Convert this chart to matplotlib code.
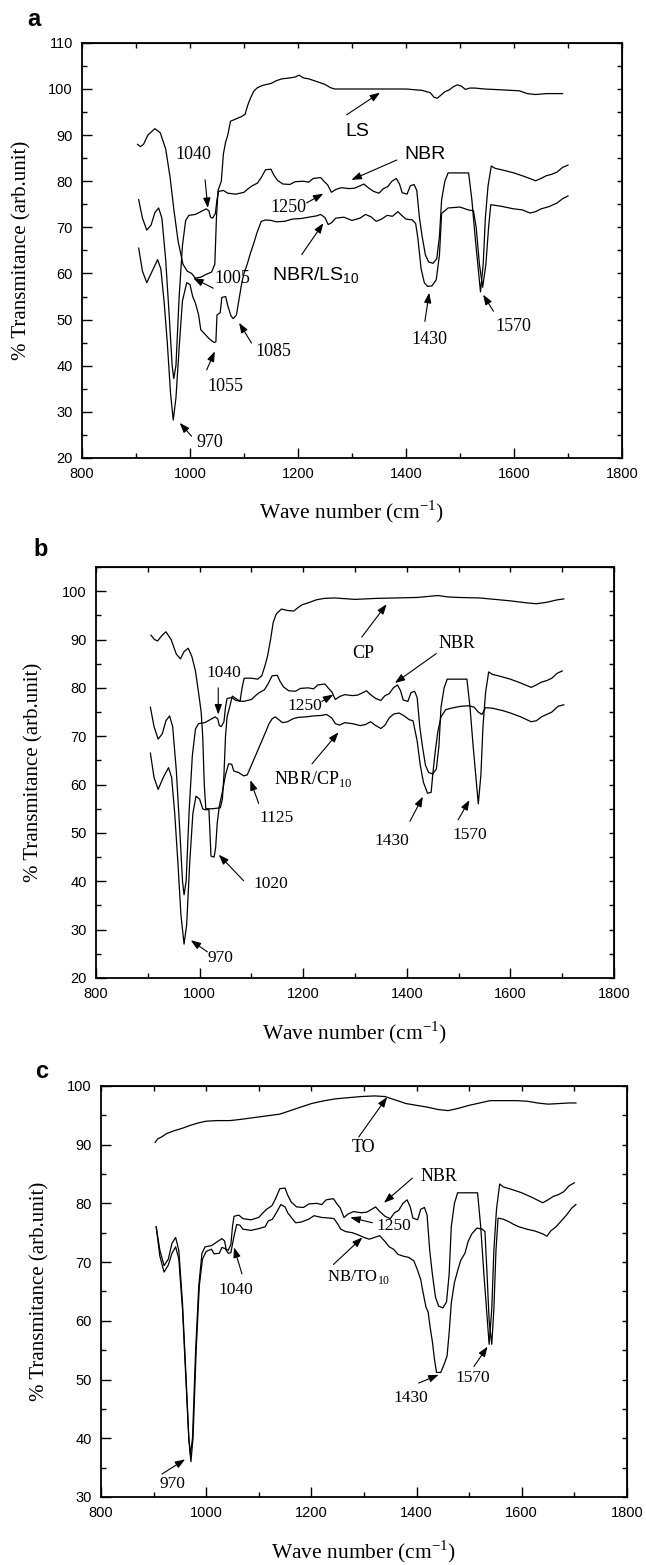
"""
FTIR spectra of NBR and its blends (panels a, b, c).
"""

import matplotlib
matplotlib.use("Agg")
import matplotlib.pyplot as plt
from matplotlib.ticker import MultipleLocator

plt.rcParams["mathtext.fontset"] = "custom"
plt.rcParams["mathtext.rm"] = "Liberation Serif"
plt.rcParams["mathtext.sf"] = "Liberation Sans"

SANS = "Liberation Sans"
SERIF = "Liberation Serif"

# ---------------------------------------------------------------- data
# Pure NBR spectrum (shown in every panel)
nbr_x = [905, 912, 920, 928, 935, 942, 948, 955, 962, 967, 970, 974, 980,
         986, 992, 998, 1010, 1020, 1030, 1035, 1038, 1042, 1047, 1050, 1053,
         1062, 1070, 1085, 1100, 1108, 1115, 1125, 1132, 1140, 1150, 1155,
         1162, 1172, 1185, 1195, 1210, 1220, 1228, 1242, 1248, 1255, 1262,
         1270, 1280, 1295, 1305, 1315, 1322, 1330, 1340, 1350, 1358, 1366,
         1374, 1382, 1388, 1393, 1402, 1408, 1415, 1420, 1425, 1430, 1436,
         1442, 1450, 1457, 1462, 1466, 1472, 1478, 1500, 1516, 1522, 1528,
         1538, 1543, 1547, 1552, 1558, 1565, 1580, 1600, 1620, 1640, 1650,
         1660, 1670, 1680, 1690, 1700]
nbr_y = [76.0, 72.0, 69.4, 70.5, 73.2, 74.2, 72.0, 63.0, 50.0, 40.0, 37.2,
         40.0, 55.0, 66.0, 71.5, 72.6, 72.8, 73.4, 74.0, 73.6, 72.2, 72.0,
         73.0, 76.0, 77.8, 78.0, 77.4, 77.2, 77.6, 78.4, 79.0, 79.6, 80.8,
         82.5, 82.6, 81.4, 80.2, 79.4, 79.3, 79.9, 80.0, 79.8, 80.6, 80.8,
         80.0, 79.2, 77.6, 78.2, 78.6, 78.4, 78.5, 79.0, 79.4, 78.6, 77.8,
         77.4, 78.4, 78.8, 80.0, 80.6, 79.4, 77.5, 77.2, 79.0, 79.3, 78.0,
         72.0, 68.0, 64.0, 62.5, 62.2, 63.2, 68.0, 76.0, 80.0, 81.8, 81.8,
         81.8, 76.0, 68.0, 56.0, 62.0, 72.0, 79.0, 83.3, 82.8, 82.4, 81.8,
         81.0, 80.1, 80.6, 81.2, 81.5, 82.0, 83.0, 83.5]

# Panel a: lignosulfonate (LS) and NBR/LS10
ls_x = [903, 908, 914, 922, 935, 945, 955, 963, 970, 978, 987, 995, 1003,
        1010, 1020, 1030, 1040, 1046, 1049, 1052, 1058, 1062, 1066, 1070,
        1075, 1085, 1095, 1102, 1107, 1112, 1118, 1125, 1135, 1150, 1160,
        1170, 1185, 1195, 1202, 1210, 1220, 1235, 1250, 1260, 1268, 1300,
        1350, 1400, 1430, 1445, 1452, 1458, 1464, 1472, 1480, 1488, 1495,
        1503, 1510, 1518, 1528, 1545, 1580, 1610, 1625, 1640, 1660, 1690]
ls_y = [88.0, 87.5, 88.0, 90.0, 91.4, 90.5, 87.0, 81.0, 74.0, 67.0, 62.0,
        60.5, 60.0, 59.0, 59.2, 59.8, 60.3, 62.0, 72.0, 78.0, 80.0, 86.0,
        88.5, 90.0, 93.0, 93.5, 94.0, 94.5, 96.5, 98.0, 99.5, 100.3, 100.8,
        101.2, 101.8, 102.2, 102.4, 102.6, 103.0, 102.4, 102.2, 101.6, 101.0,
        100.3, 100.0, 100.0, 100.0, 100.0, 99.7, 99.2, 98.2, 98.0, 98.6,
        99.4, 99.8, 100.5, 100.9, 100.6, 99.9, 100.2, 100.2, 100.0, 99.8,
        99.6, 99.0, 98.8, 99.0, 99.0]

nbr_ls_x = [905, 912, 920, 930, 940, 946, 952, 958, 964, 969, 974, 980, 986,
            994, 1000, 1005, 1010, 1016, 1020, 1028, 1036, 1045, 1048, 1050,
            1056, 1059, 1066, 1070, 1076, 1080, 1086, 1090, 1096, 1100, 1106,
            1112, 1118, 1124, 1132, 1140, 1150, 1160, 1175, 1190, 1205, 1220,
            1235, 1242, 1250, 1256, 1262, 1270, 1285, 1300, 1315, 1325, 1335,
            1345, 1355, 1365, 1375, 1385, 1392, 1400, 1412, 1418, 1422, 1428,
            1434, 1440, 1448, 1456, 1462, 1466, 1478, 1500, 1515, 1525, 1530,
            1536, 1542, 1548, 1553, 1557, 1575, 1600, 1615, 1630, 1640, 1650,
            1665, 1680, 1690, 1700]
nbr_ls_y = [65.5, 60.5, 58.0, 60.5, 63.0, 61.0, 54.0, 45.0, 34.0, 28.2, 33.0,
            44.0, 54.0, 58.0, 57.6, 55.0, 53.6, 51.0, 47.8, 46.8, 45.8, 45.0,
            45.2, 51.0, 51.5, 54.8, 55.0, 53.0, 50.8, 50.2, 51.0, 53.8, 58.0,
            60.0, 62.0, 64.4, 66.5, 68.8, 71.3, 71.6, 71.5, 71.2, 71.3, 71.8,
            71.9, 72.2, 72.5, 72.8, 72.1, 70.6, 71.0, 72.0, 72.2, 71.5, 72.0,
            72.8, 72.3, 71.3, 71.8, 72.6, 72.4, 73.4, 72.6, 71.8, 71.6, 70.8,
            67.7, 61.0, 58.0, 57.2, 57.3, 58.6, 64.0, 73.0, 74.2, 74.4, 73.8,
            73.6, 70.0, 62.0, 57.0, 62.0, 70.0, 74.9, 74.6, 74.0, 73.8, 73.1,
            73.4, 74.0, 74.5, 75.3, 76.2, 76.8]

# Panel b: CP and NBR/CP10
cp_x = [906, 913, 919, 927, 935, 945, 955, 963, 970, 978, 985, 992, 998,
        1003, 1006, 1009, 1012, 1025, 1040, 1044, 1047, 1050, 1053, 1058,
        1063, 1070, 1078, 1082, 1086, 1100, 1112, 1120, 1126, 1131, 1137,
        1142, 1148, 1158, 1170, 1182, 1190, 1198, 1210, 1225, 1240, 1260,
        1300, 1340, 1380, 1420, 1460, 1480, 1500, 1540, 1570, 1600, 1630,
        1650, 1670, 1690, 1703]
cp_y = [90.9, 90.0, 89.7, 90.8, 91.6, 90.0, 87.0, 86.0, 87.5, 88.2, 86.5,
        83.5, 79.0, 75.0, 70.0, 60.0, 55.0, 55.0, 55.2, 57.0, 62.0, 70.0,
        74.0, 76.0, 78.3, 77.8, 77.2, 80.0, 82.0, 82.0, 81.8, 82.5, 84.5,
        86.5, 90.0, 93.5, 95.3, 96.3, 96.0, 95.9, 96.6, 97.2, 97.6, 98.2,
        98.5, 98.6, 98.3, 98.5, 98.6, 98.7, 99.1, 98.8, 98.7, 98.6, 98.3,
        98.0, 97.6, 97.4, 97.7, 98.2, 98.4]

nbr_cp_x = [905, 912, 920, 930, 940, 946, 952, 958, 964, 970, 975, 981, 987,
            993, 1000, 1006, 1010, 1018, 1020, 1022, 1028, 1031, 1034, 1038,
            1044, 1050, 1056, 1062, 1066, 1075, 1085, 1092, 1098, 1104, 1110,
            1116, 1122, 1128, 1134, 1140, 1146, 1152, 1160, 1170, 1180, 1190,
            1205, 1220, 1235, 1245, 1255, 1262, 1270, 1280, 1295, 1310, 1320,
            1330, 1340, 1350, 1358, 1366, 1375, 1385, 1395, 1405, 1412, 1420,
            1426, 1432, 1440, 1447, 1450, 1455, 1460, 1466, 1475, 1490, 1505,
            1520, 1530, 1538, 1545, 1552, 1565, 1585, 1600, 1620, 1640, 1650,
            1660, 1670, 1680, 1692, 1703]
nbr_cp_y = [66.5, 61.5, 59.0, 61.5, 63.5, 61.5, 54.0, 44.0, 33.0, 27.0, 31.0,
            44.0, 54.0, 57.6, 57.0, 55.0, 54.8, 54.8, 50.0, 45.2, 45.0, 47.0,
            52.0, 55.5, 58.5, 62.0, 64.3, 64.2, 62.8, 62.5, 61.8, 62.0, 63.5,
            65.0, 66.5, 68.0, 69.5, 71.0, 72.6, 73.6, 74.0, 73.5, 72.8, 73.0,
            73.6, 73.9, 74.0, 74.2, 74.3, 74.5, 73.8, 72.6, 72.3, 72.8, 72.6,
            72.2, 72.4, 73.0, 72.2, 71.6, 72.3, 73.8, 74.6, 74.8, 74.2, 73.4,
            73.2, 69.0, 64.0, 60.5, 58.2, 58.4, 62.0, 67.0, 71.0, 74.0, 75.5,
            75.9, 76.2, 76.3, 76.0, 75.0, 74.5, 75.9, 75.8, 75.3, 74.8, 74.0,
            73.0, 73.2, 74.0, 74.5, 75.0, 76.2, 76.5]

# Panel c: TO and NB/TO10
to_x = [903, 908, 915, 925, 940, 955, 970, 985, 1000, 1020, 1045, 1065, 1090,
        1115, 1140, 1160, 1180, 1200, 1220, 1245, 1270, 1295, 1320, 1340,
        1360, 1380, 1400, 1420, 1440, 1460, 1480, 1500, 1520, 1540, 1560,
        1590, 1610, 1630, 1650, 1670, 1690, 1703]
to_y = [90.4, 91.0, 91.3, 91.9, 92.4, 92.8, 93.3, 93.7, 94.0, 94.1, 94.1,
        94.3, 94.6, 94.9, 95.2, 95.8, 96.4, 97.0, 97.4, 97.8, 98.0, 98.2,
        98.3, 98.2, 97.6, 97.0, 96.7, 96.4, 96.0, 95.8, 96.2, 96.7, 97.1,
        97.5, 97.5, 97.5, 97.4, 97.1, 96.9, 97.0, 97.1, 97.1]

nb_to_x = [905, 912, 920, 928, 935, 942, 948, 955, 962, 967, 971, 975, 981,
           987, 993, 1000, 1010, 1015, 1025, 1030, 1036, 1042, 1047, 1052,
           1058, 1064, 1070, 1085, 1100, 1112, 1118, 1126, 1134, 1142, 1150,
           1155, 1162, 1170, 1180, 1195, 1205, 1220, 1235, 1243, 1250, 1256,
           1265, 1278, 1290, 1300, 1310, 1320, 1330, 1340, 1348, 1356, 1365,
           1375, 1385, 1395, 1402, 1408, 1412, 1418, 1422, 1426, 1430, 1434,
           1438, 1446, 1452, 1458, 1462, 1466, 1472, 1478, 1484, 1492, 1498,
           1505, 1515, 1525, 1530, 1534, 1538, 1543, 1547, 1551, 1555, 1565,
           1575, 1585, 1595, 1610, 1625, 1640, 1648, 1655, 1665, 1675, 1685,
           1695, 1703]
nb_to_y = [76.0, 71.0, 68.3, 69.5, 71.5, 72.6, 70.5, 62.0, 49.0, 40.0, 36.0,
           40.0, 55.0, 66.0, 70.5, 71.8, 72.2, 71.4, 71.5, 72.5, 72.3, 71.5,
           71.6, 74.0, 76.4, 76.3, 75.6, 75.4, 75.7, 76.0, 77.0, 77.3, 78.5,
           79.8, 79.4, 78.4, 77.6, 76.7, 76.8, 77.3, 77.9, 77.6, 77.5, 77.4,
           76.5, 75.6, 75.2, 75.0, 74.6, 74.2, 73.9, 74.2, 74.5, 73.5, 72.6,
           72.2, 71.3, 71.0, 70.8, 70.2, 68.6, 67.0, 65.0, 62.3, 61.5, 58.8,
           56.5, 53.5, 51.2, 51.2, 52.5, 54.0, 58.0, 63.0, 66.5, 68.5, 70.3,
           71.5, 73.5, 74.8, 75.8, 75.6, 75.2, 68.0, 60.0, 56.0, 62.0, 72.0,
           77.5, 77.3, 76.9, 76.4, 76.0, 75.6, 75.3, 74.8, 74.4, 75.3, 76.0,
           77.0, 78.0, 79.2, 79.8]


def style_axes(ax, ylim, ytop_labels):
    """ Origin-like frame: inward ticks on all four sides.
    """
    ax.set_xlim(800, 1800)
    ax.set_ylim(*ylim)
    ax.xaxis.set_major_locator(MultipleLocator(200))
    ax.xaxis.set_minor_locator(MultipleLocator(100))
    ax.yaxis.set_major_locator(MultipleLocator(10))
    ax.yaxis.set_minor_locator(MultipleLocator(5))
    ax.tick_params(which="major", direction="in", length=7, width=1,
                   labelsize=10.5, pad=6.5)
    ax.tick_params(which="minor", direction="in", length=3.5, width=1)
    for lab in ax.get_xticklabels() + ax.get_yticklabels():
        lab.set_family(SANS)
    for spine in ax.spines.values():
        spine.set_linewidth(1.3)

    # Short ticks on the top and right frame
    top = ax.secondary_xaxis("top")
    top.xaxis.set_major_locator(MultipleLocator(100))
    top.tick_params(direction="in", length=3.5, width=1, labeltop=False)
    right = ax.secondary_yaxis("right")
    right.yaxis.set_major_locator(MultipleLocator(5))
    right.tick_params(direction="in", length=3.5, width=1, labelright=False)


def label_axes(ax, ylab_x, xlab_y):
    ax.text(0.5, xlab_y, "Wave number (cm$^{-1}$)", transform=ax.transAxes,
            ha="center", va="center", family=SERIF, fontsize=15.5)
    ax.text(ylab_x, 0.5, "% Transmitance (arb.unit)", transform=ax.transAxes,
            ha="center", va="center", rotation=90, family=SERIF, fontsize=15)


def add_notes(ax, notes, arrows):
    """ Write the peak labels and draw the pointing arrows.
    """
    for text, x, y, ha, family, size in notes:
        ax.text(x, y, text, ha=ha, va="center", family=family, fontsize=size)
    for tail, head in arrows:
        ax.annotate("", xy=head, xytext=tail,
                    arrowprops=dict(arrowstyle="-|>,head_length=0.6,"
                                    "head_width=0.22", color="k", lw=0.8,
                                    shrinkA=0, shrinkB=0))


# ---------------------------------------------------------------- figure
fig = plt.figure(figsize=(6.46, 15.65), dpi=100)
line_kw = dict(color="k", lw=0.9)

# Panel a
ax_a = fig.add_axes([0.1269, 0.7074, 0.8359, 0.2652])
ax_a.plot(ls_x, ls_y, **line_kw)
ax_a.plot(nbr_x, nbr_y, **line_kw)
ax_a.plot(nbr_ls_x, nbr_ls_y, **line_kw)
style_axes(ax_a, (20, 110), True)
label_axes(ax_a, -0.111, -0.130)
add_notes(ax_a,
          [("1040", 1006, 85.7, "center", SERIF, 13),
           ("1005", 1078, 59.0, "center", SERIF, 13),
           ("1055", 1065, 35.5, "center", SERIF, 13),
           ("1085", 1154, 43.1, "center", SERIF, 13),
           ("970", 1037, 23.3, "center", SERIF, 13),
           ("1250", 1182, 74.2, "center", SERIF, 13),
           ("1430", 1444, 45.6, "center", SERIF, 13),
           ("1570", 1599, 48.5, "center", SERIF, 13),
           ("LS", 1309, 90.8, "center", SANS, 14),
           ("NBR", 1435, 85.7, "center", SANS, 14),
           ("NBR/LS$_{\\mathsf{10}}$", 1152, 59.5, "left", SANS, 14)],
          [((1028, 80.3), (1033, 74.2)),
           ((1043, 56.8), (1006, 59.0)),
           ((1031, 39.1), (1046, 43.1)),
           ((1114, 44.9), (1091, 49.3)),
           ((1003, 24.7), (981, 27.6)),
           ((1290, 94.4), (1352, 99.2)),
           ((1383, 84.6), (1299, 80.3)),
           ((1216, 75.3), (1247, 77.3)),
           ((1207, 64.1), (1247, 70.9)),
           ((1435, 49.6), (1443, 55.8)),
           ((1562, 51.8), (1543, 55.4))])
fig.text(34 / 646, 1 - 20 / 1565, "a", ha="center", va="center",
         family=SANS, weight="bold", fontsize=17)

# Panel b
ax_b = fig.add_axes([0.1486, 0.3751, 0.8019, 0.2626])
ax_b.plot(cp_x, cp_y, **line_kw)
ax_b.plot(nbr_x, nbr_y, **line_kw)
ax_b.plot(nbr_cp_x, nbr_cp_y, **line_kw)
style_axes(ax_b, (20, 105), True)
label_axes(ax_b, -0.120, -0.134)
add_notes(ax_b,
          [("CP", 1316, 87.1, "center", SERIF, 13),
           ("NBR", 1496, 89.2, "center", SERIF, 13),
           ("1040", 1047, 83.0, "center", SERIF, 12.5),
           ("1250", 1204, 76.2, "center", SERIF, 12.5),
           ("1125", 1149, 53.0, "center", SERIF, 12.5),
           ("1020", 1137, 39.4, "center", SERIF, 12.5),
           ("970", 1040, 24.1, "center", SERIF, 12.5),
           ("1430", 1372, 48.3, "center", SERIF, 12.5),
           ("1570", 1521, 49.6, "center", SERIF, 12.5),
           ("NBR/CP$_{10}$", 1143, 61.2, "left", SERIF, 13)],
          [((1313, 90.5), (1361, 97.3)),
           ((1457, 87.1), (1377, 81.0)),
           ((1036, 80.0), (1036, 74.5)),
           ((1236, 77.2), (1258, 78.6)),
           ((1217, 64.3), (1268, 70.8)),
           ((1114, 56.1), (1098, 60.9)),
           ((1085, 40.1), (1037, 45.5)),
           ((1015, 25.4), (983, 27.8)),
           ((1406, 52.4), (1431, 57.5)),
           ((1499, 52.7), (1521, 56.8))])
fig.text(41 / 646, 1 - 550 / 1565, "b", ha="center", va="center",
         family=SANS, weight="bold", fontsize=17)

# Panel c
ax_c = fig.add_axes([0.1563, 0.0435, 0.8142, 0.2626])
ax_c.plot(to_x, to_y, **line_kw)
ax_c.plot(nbr_x, nbr_y, **line_kw)
ax_c.plot(nb_to_x, nb_to_y, **line_kw)
style_axes(ax_c, (30, 100), True)
label_axes(ax_c, -0.116, -0.134)
add_notes(ax_c,
          [("TO", 1300, 89.6, "center", SERIF, 13),
           ("NBR", 1442, 84.6, "center", SERIF, 13),
           ("1250", 1357, 76.1, "center", SERIF, 12.5),
           ("1040", 1057, 65.2, "center", SERIF, 12.5),
           ("970", 935, 32.2, "center", SERIF, 12.5),
           ("1430", 1389, 46.8, "center", SERIF, 12.5),
           ("1570", 1506, 50.2, "center", SERIF, 12.5),
           ("NB/TO$_{10}$", 1230, 67.4, "left", SERIF, 12)],
          [((1290, 91.3), (1344, 98.1)),
           ((1392, 84.3), (1338, 80.1)),
           ((1316, 76.7), (1274, 77.6)),
           ((1242, 69.6), (1297, 74.2)),
           ((1068, 68.0), (1053, 72.5)),
           ((916, 33.9), (960, 36.4)),
           ((1404, 49.4), (1442, 50.8)),
           ((1509, 52.2), (1535, 55.6))])
fig.text(42 / 646, 1 - 1071 / 1565, "c", ha="center", va="center",
         family=SANS, weight="bold", fontsize=17)

fig.savefig("out.png", dpi=100)
